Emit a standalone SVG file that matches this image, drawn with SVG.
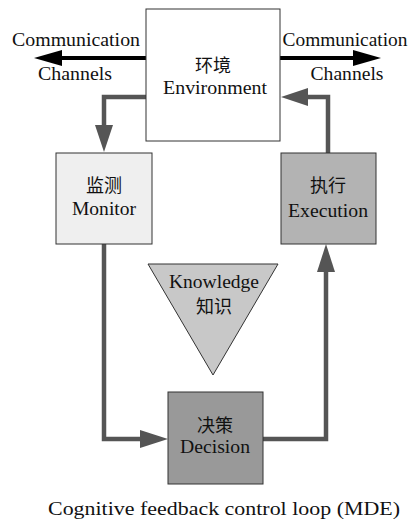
<svg xmlns="http://www.w3.org/2000/svg" width="412" height="522" viewBox="0 0 412 522">
<style>
text{font-family:'Liberation Serif','Times New Roman','Noto Sans CJK SC',serif;font-size:18px;fill:#111;text-anchor:middle}
.box{stroke:#333;stroke-width:1}
.conn{fill:none;stroke:#555;stroke-width:4.5}
.bk{fill:none;stroke:#000;stroke-width:4}
</style>
<rect width="412" height="522" fill="#fff"/>
<g id="connectors">
<line class="bk" x1="146" y1="58" x2="58" y2="58"/>
<polygon points="34,58 62,50 62,66" fill="#000"/>
<line class="bk" x1="280" y1="58" x2="356" y2="58"/>
<polygon points="381,58 353,50 353,66" fill="#000"/>
<polyline class="conn" points="146,97 104,97 104,128"/>
<polygon points="104,152 95,125 113,125" fill="#555"/>
<polyline class="conn" points="328,153 328,97 306,97"/>
<polygon points="281,97 308,88 308,106" fill="#555"/>
<polyline class="conn" points="104,244 104,439 143,439"/>
<polygon points="168,439 140,430 140,448" fill="#555"/>
<polyline class="conn" points="263,439 326,439 326,270"/>
<polygon points="326,244 317,272 335,272" fill="#555"/>
</g>
<g id="labels">
<text x="76" y="46" textLength="128" lengthAdjust="spacingAndGlyphs">Communication</text>
<text x="75" y="80" textLength="74" lengthAdjust="spacingAndGlyphs">Channels</text>
<text x="345" y="46" textLength="125" lengthAdjust="spacingAndGlyphs">Communication</text>
<text x="347" y="80" textLength="73" lengthAdjust="spacingAndGlyphs">Channels</text>
</g>
<g id="environment">
<rect class="box" x="146" y="9" width="134" height="132" fill="#fff"/>
<text x="213" y="72">环境</text>
<text x="215" y="94" textLength="104" lengthAdjust="spacingAndGlyphs">Environment</text>
</g>
<g id="monitor">
<rect class="box" x="56" y="153" width="96" height="91" fill="#efefef"/>
<text x="104" y="192">监测</text>
<text x="104" y="215" textLength="64" lengthAdjust="spacingAndGlyphs">Monitor</text>
</g>
<g id="execution">
<rect class="box" x="281" y="153" width="95" height="91" fill="#b3b3b3"/>
<text x="328" y="192">执行</text>
<text x="328" y="217" textLength="80" lengthAdjust="spacingAndGlyphs">Execution</text>
</g>
<g id="knowledge">
<polygon class="box" points="148,264 278,264 213,375" fill="#c8c8c8"/>
<text x="214" y="288" textLength="90" lengthAdjust="spacingAndGlyphs">Knowledge</text>
<text x="214" y="313">知识</text>
</g>
<g id="decision">
<rect class="box" x="168" y="392" width="95" height="92" fill="#999"/>
<text x="215" y="432">决策</text>
<text x="215" y="453" textLength="70" lengthAdjust="spacingAndGlyphs">Decision</text>
</g>
<text x="224" y="515" textLength="352" lengthAdjust="spacingAndGlyphs">Cognitive feedback control loop (MDE)</text>
</svg>
